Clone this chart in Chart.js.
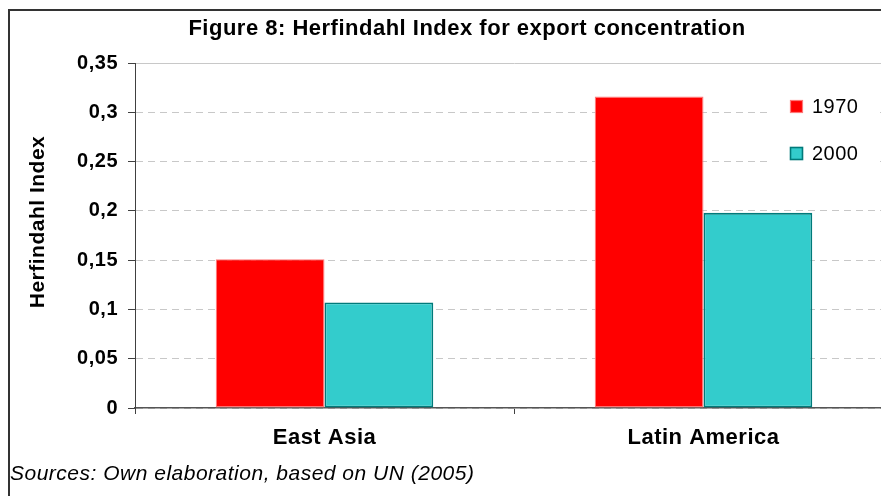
<!DOCTYPE html>
<html>
<head>
<meta charset="utf-8">
<script src="https://cdn.jsdelivr.net/npm/chart.js@4/dist/chart.umd.min.js"></script>
<style>
  html, body { margin: 0; padding: 0; background: #fff; overflow: hidden; width: 881px; height: 496px; }
  #frame { position: absolute; left: 8px; top: 9px; width: 914px; height: 500px;
           border-left: 2px solid #333; border-top: 2px solid #333; background: #fff; }
  canvas { display: block; }
</style>
</head>
<body>
<div id="frame"><canvas id="c" width="914" height="485" style="width:914px;height:485px"></canvas></div>
<script>
const categories = ['East Asia', 'Latin America'];
const seriesLabels = ['1970', '2000'];
const values1970 = [0.151, 0.316];
const values2000 = [0.107, 0.198];
const yTickLabels = ['0', '0,05', '0,1', '0,15', '0,2', '0,25', '0,3', '0,35'];
const titleText = 'Figure 8: Herfindahl Index for export concentration';
const yAxisTitle = 'Herfindahl Index';
const sourceText = 'Sources: Own elaboration, based on UN (2005)';

const FONT = "'Liberation Sans', Arial, sans-serif";
const SPACING = '0.5px';

const spacingPlugin = {
  id: 'spacing',
  beforeUpdate(chart) { chart.ctx.letterSpacing = SPACING; },
  beforeDraw(chart) { chart.ctx.letterSpacing = SPACING; }
};

// y-axis title, drawn slightly above the axis middle as in the reference
const yTitlePlugin = {
  id: 'yTitle',
  afterDraw(chart) {
    const ctx = chart.ctx;
    const a = chart.chartArea;
    ctx.save();
    ctx.letterSpacing = SPACING;
    ctx.translate(a.left - 97, (a.top + a.bottom) / 2 - 13.5);
    ctx.rotate(-Math.PI / 2);
    ctx.fillStyle = '#000';
    ctx.font = 'bold 21px ' + FONT;
    ctx.textAlign = 'center';
    ctx.textBaseline = 'middle';
    ctx.fillText(yAxisTitle, 0, 0);
    ctx.restore();
  }
};

const insideLegend = {
  id: 'insideLegend',
  afterDraw(chart) {
    const ctx = chart.ctx;
    const a = chart.chartArea;
    ctx.save();
    ctx.letterSpacing = SPACING;
    const bx = a.right - 126, by = a.top + 22, bw = 110, bh = 90;
    ctx.fillStyle = '#ffffff';
    ctx.fillRect(bx, by, bw, bh);
    chart.data.datasets.forEach((ds, i) => {
      const sy = a.top + 37 + i * 47;
      ctx.fillStyle = ds.backgroundColor;
      ctx.fillRect(bx + 23, sy, 13, 13);
      ctx.strokeStyle = ds.borderColor;
      ctx.lineWidth = i === 0 ? 1.2 : 1.6;
      ctx.strokeRect(bx + 23.5, sy + 0.5, 12, 12);
      ctx.fillStyle = '#000';
      ctx.font = '20px ' + FONT;
      ctx.textBaseline = 'middle';
      ctx.textAlign = 'left';
      ctx.fillText(ds.label, bx + 45, sy + 7);
    });
    ctx.restore();
  }
};

new Chart(document.getElementById('c'), {
  type: 'bar',
  data: {
    labels: categories,
    datasets: [
      { label: seriesLabels[0], data: values1970, backgroundColor: '#FF0000', borderColor: '#FF7878', borderWidth: 1.2, borderSkipped: false, yAxisID: 'y' },
      { label: seriesLabels[1], data: values2000, backgroundColor: '#33CCCC', borderColor: '#007A7A', borderWidth: 1.8, borderSkipped: false, yAxisID: 'y' }
    ]
  },
  options: {
    responsive: false,
    animation: false,
    devicePixelRatio: 1,
    layout: { padding: { left: 0, right: 0, top: 0, bottom: 0 } },
    datasets: { bar: { categoryPercentage: 0.574, barPercentage: 1.0 } },
    plugins: {
      legend: { display: false },
      tooltip: { enabled: false },
      title: {
        display: true, text: titleText, color: '#000',
        font: { family: FONT, size: 22, weight: 'bold', lineHeight: 1.2 },
        padding: { top: 5, bottom: 20.6 }
      },
      subtitle: {
        display: true, text: sourceText, position: 'bottom', align: 'start', color: '#000',
        font: { family: FONT, size: 21, style: 'italic', lineHeight: 1.2 },
        padding: { top: 3.4, bottom: 9.4 }
      }
    },
    scales: {
      x: {
        grid: { display: true, drawOnChartArea: false, offset: true, tickLength: 6, tickColor: '#404040', tickWidth: 1 },
        border: { display: true, color: '#555', width: 1.5 },
        ticks: { color: '#000', padding: 10.8, font: { family: FONT, size: 22, weight: 'bold' } },
        afterFit(scale) { scale.height = 50; }
      },
      y: {
        min: 0, max: 0.35,
        grid: { color: '#C8C8C8', lineWidth: 1, tickLength: 7, tickColor: '#404040', tickWidth: 1 },
        border: { display: true, color: '#404040', width: 1,
                  dash: (c) => (c && c.tick && c.tick.value > 0.349) ? [] : [7, 5] },
        ticks: {
          stepSize: 0.05, color: '#000', padding: 10,
          font: { family: FONT, size: 20, weight: 'bold' },
          callback: (v, i) => yTickLabels[i]
        },
        afterFit(scale) { scale.width = 125; }
      },
      yRight: {
        type: 'linear', position: 'right', display: true,
        grid: { display: false, drawTicks: false }, border: { display: false },
        ticks: { display: false },
        afterFit(scale) { scale.width = 31; }
      }
    }
  },
  plugins: [spacingPlugin, yTitlePlugin, insideLegend]
});
</script>
</body>
</html>
